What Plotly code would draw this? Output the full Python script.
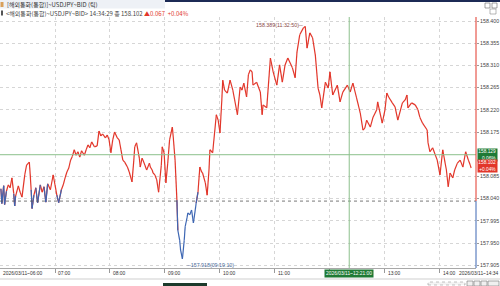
import pandas as pd
import plotly.graph_objects as go

# ---------------- data ----------------
minutes = [
    1, 2, 4, 5, 7, 9, 11, 13, 15, 16,
    17, 20, 22, 24, 27, 29, 32, 33, 34, 35,
    37, 39, 41, 44, 46, 48, 50, 52, 55, 58,
    60, 62, 64, 67, 69, 71, 73, 75, 77, 79,
    81, 83, 85, 87, 89, 92, 94, 96, 98, 100,
    103, 106, 108, 110, 112, 115, 117, 119, 121, 123,
    125, 128, 130, 132, 134, 136, 139, 141, 144, 146,
    147, 149, 152, 153, 155, 156, 158, 160, 163, 164,
    166, 167, 169, 171, 173, 176, 177, 179, 181, 183,
    185, 188, 189, 191, 193, 194, 196, 197, 199, 201,
    202, 204, 205, 207, 209, 211, 213, 214, 216, 218,
    220, 221, 224, 226, 228, 229, 232, 236, 238, 240,
    242, 243, 245, 248, 251, 254, 256, 259, 262, 264,
    266, 269, 271, 273, 275, 276, 280, 284, 286, 287,
    291, 295, 298, 302, 305, 308, 311, 314, 319, 322,
    324, 327, 331, 333, 335, 338, 341, 344, 347, 349,
    351, 355, 358, 360, 363, 368, 371, 374, 379, 382,
    385, 389, 393, 396, 398, 400, 404, 407, 411, 412,
    417, 420, 422, 424, 428, 431, 434, 439, 442, 444,
    445, 449, 453, 456, 458, 461, 466, 467, 469, 472,
    477, 480, 483, 487, 489, 491, 494, 496, 499, 502,
    505, 508, 511, 513, 514,
]
prices = [
    158.060, 158.030, 158.066, 158.028, 158.055, 158.068, 158.062, 158.082, 158.050, 158.025,
    158.045, 158.066, 158.053, 158.043, 158.088, 158.108, 158.114, 158.088, 158.058, 158.020,
    158.047, 158.062, 158.032, 158.068, 158.053, 158.064, 158.033, 158.070, 158.058, 158.088,
    158.068, 158.047, 158.032, 158.058, 158.068, 158.082, 158.094, 158.102, 158.118, 158.126,
    158.139, 158.128, 158.135, 158.124, 158.137, 158.128, 158.139, 158.149, 158.143, 158.155,
    158.145, 158.147, 158.177, 158.167, 158.171, 158.163, 158.169, 158.159, 158.133, 158.159,
    158.175, 158.163, 158.159, 158.139, 158.118, 158.114, 158.104, 158.094, 158.074, 158.118,
    158.145, 158.153, 158.122, 158.104, 158.122, 158.118, 158.108, 158.098, 158.112, 158.104,
    158.098, 158.092, 158.088, 158.078, 158.053, 158.108, 158.145, 158.133, 158.072, 158.112,
    158.159, 158.185, 158.165, 158.118, 158.037, 157.976, 157.956, 157.936, 157.918, 157.956,
    157.983, 158.001, 158.011, 158.007, 158.017, 157.991, 158.017, 158.031, 158.053, 158.104,
    158.094, 158.092, 158.072, 158.047, 158.098, 158.139, 158.133, 158.210, 158.199, 158.173,
    158.240, 158.280, 158.260, 158.254, 158.280, 158.260, 158.240, 158.210, 158.266, 158.260,
    158.274, 158.246, 158.291, 158.301, 158.297, 158.270, 158.276, 158.256, 158.210, 158.230,
    158.224, 158.325, 158.297, 158.270, 158.311, 158.276, 158.311, 158.325, 158.305, 158.285,
    158.337, 158.372, 158.386, 158.389, 158.345, 158.376, 158.366, 158.331, 158.264, 158.250,
    158.224, 158.276, 158.264, 158.297, 158.250, 158.270, 158.236, 158.256, 158.270, 158.256,
    158.274, 158.244, 158.214, 158.179, 158.183, 158.199, 158.185, 158.205, 158.220, 158.236,
    158.193, 158.220, 158.254, 158.246, 158.234, 158.226, 158.199, 158.234, 158.240, 158.250,
    158.224, 158.234, 158.230, 158.220, 158.205, 158.193, 158.179, 158.153, 158.135, 158.143,
    158.118, 158.088, 158.139, 158.098, 158.064, 158.092, 158.082, 158.098, 158.112, 158.118,
    158.104, 158.135, 158.118, 158.108, 158.102,
]
y_ticks = [158.400, 158.355, 158.310, 158.265, 158.220, 158.175,
           158.085, 158.040, 157.995, 157.950, 157.905]
hour_ticks = ["07:00", "08:00", "09:00", "10:00", "11:00", "12:00", "13:00", "14:00"]
hour_labels_shown = ["07:00", "08:00", "09:00", "10:00", "11:00", "13:00", "14:00"]
prev_close = 158.035
last_price = 158.102
cross_price = 158.129
cross_time = "12:21:00"
high_val, high_time = 158.389, "11:32:50"
low_val, low_time = 157.918, "09:19:10"

# ---------------- layout helpers ----------------
W, H = 500, 286
ML, MR, MT, MB = 0, 24, 17, 18
PW, PH = W - ML - MR, H - MT - MB
def px_x(p):
    return (p - ML) / PW
def px_y(p):
    return (H - MB - p) / PH

DAY = "2026-03-11 "
base = pd.Timestamp(DAY + "06:00:00")
times = list(base + pd.to_timedelta(minutes, unit="m"))
x_end = base + pd.Timedelta(minutes=519.3)
y_lo, y_hi = 157.8994, 158.4081

RED = "#e2362a"
BLUE = "#3d66b3"

# red where the segment reaches above previous close, blue (on top) where it dips below
rx, ry, bx, by = [], [], [], []
for i in range(len(prices) - 1):
    a, b = prices[i], prices[i + 1]
    if max(a, b) >= prev_close:
        rx += [times[i], times[i + 1], None]
        ry += [a, b, None]
    if min(a, b) < prev_close:
        bx += [times[i], times[i + 1], None]
        by += [a, b, None]

fig = go.Figure()
fig.add_trace(go.Scatter(x=rx, y=ry, mode="lines", line=dict(color=RED, width=1.2),
                         hoverinfo="skip", showlegend=False))
fig.add_trace(go.Scatter(x=bx, y=by, mode="lines", line=dict(color=BLUE, width=1.2),
                         hoverinfo="skip", showlegend=False))

NUMFONT = "Liberation Sans"
KFONT = "Noto Sans CJK KR"
shapes = []
ann = []

# previous close dotted line
shapes.append(dict(type="line", xref="paper", yref="y", x0=0, x1=1, y0=prev_close, y1=prev_close,
                   line=dict(color="#555555", width=0.8, dash="dot")))
# crosshair
cross_t = pd.Timestamp(DAY + cross_time)
shapes.append(dict(type="line", xref="paper", yref="y", x0=0, x1=1, y0=cross_price, y1=cross_price,
                   line=dict(color="#8cc08c", width=1)))
shapes.append(dict(type="line", xref="x", yref="paper", x0=cross_t, x1=cross_t, y0=0, y1=1,
                   line=dict(color="#8cc08c", width=1)))
# right axis line, red above / blue below previous close
shapes.append(dict(type="line", xref="paper", yref="y", x0=1, x1=1, y0=prev_close, y1=y_hi,
                   line=dict(color=RED, width=1)))
shapes.append(dict(type="line", xref="paper", yref="y", x0=1, x1=1, y0=y_lo, y1=prev_close,
                   line=dict(color=BLUE, width=1)))

# header decorations
shapes.append(dict(type="rect", xref="paper", yref="paper", x0=px_x(165), x1=px_x(500),
                   y0=px_y(2), y1=px_y(0), fillcolor="#1c2a55", line=dict(width=0), layer="above"))
shapes.append(dict(type="rect", xref="paper", yref="paper", x0=px_x(0), x1=px_x(165),
                   y0=px_y(8.5), y1=px_y(0), fillcolor="#eef1f6", line=dict(width=0), layer="below"))
shapes.append(dict(type="rect", xref="paper", yref="paper", x0=px_x(0.5), x1=px_x(3.5),
                   y0=px_y(7), y1=px_y(2), fillcolor="#d9a05a", line=dict(width=0)))
shapes.append(dict(type="rect", xref="paper", yref="paper", x0=px_x(1), x1=px_x(3),
                   y0=px_y(15.5), y1=px_y(10.5), fillcolor="#555555", line=dict(width=0)))
for x0 in (485, 492):
    shapes.append(dict(type="rect", xref="paper", yref="paper", x0=px_x(x0), x1=px_x(x0 + 5),
                       y0=px_y(8), y1=px_y(3), fillcolor="#ffffff",
                       line=dict(color="#666666", width=0.6)))
shapes.append(dict(type="rect", xref="paper", yref="paper", x0=px_x(490), x1=px_x(496),
                   y0=px_y(14), y1=px_y(9), fillcolor="#ffffff", line=dict(color="#888888", width=0.6)))

# bottom scroll bar
shapes.append(dict(type="line", xref="paper", yref="paper", x0=px_x(0), x1=px_x(500),
                   y0=px_y(279), y1=px_y(279), line=dict(color="#cfcfcf", width=1)))
shapes.append(dict(type="rect", xref="paper", yref="paper", x0=px_x(163), x1=px_x(207),
                   y0=px_y(286), y1=px_y(283), fillcolor="#1d3b2c", line=dict(width=0)))
shapes.append(dict(type="rect", xref="paper", yref="paper", x0=px_x(428), x1=px_x(465),
                   y0=px_y(285), y1=px_y(282), fillcolor="#f4f4f4", line=dict(color="#9a9a9a", width=0.6, dash="dot")))
for x0 in (467, 474, 481):
    shapes.append(dict(type="rect", xref="paper", yref="paper", x0=px_x(x0), x1=px_x(x0 + 6),
                       y0=px_y(286), y1=px_y(281), fillcolor="#f0f0f0", line=dict(color="#777777", width=0.6)))
shapes.append(dict(type="rect", xref="paper", yref="paper", x0=px_x(488), x1=px_x(499),
                   y0=px_y(286), y1=px_y(281), fillcolor="#f0f0f0", line=dict(color="#777777", width=0.6)))

# header texts
ann.append(dict(xref="paper", yref="paper", x=px_x(5), y=px_y(4.2), xanchor="left", yanchor="middle",
                text="[해외통화(통합)]~USDJPY~BID (틱)", showarrow=False,
                font=dict(family=KFONT, size=6, color="#333333")))
ann.append(dict(xref="paper", yref="paper", x=px_x(4), y=px_y(13), xanchor="left", yanchor="middle",
                text="&lt;해외통화(통합)~USDJPY~BID&gt; 14:34:29 종 158.102 "
                     "<span style='color:#e2362a'>▲0.067  +0.04%</span>",
                showarrow=False, font=dict(family=KFONT, size=6, color="#444444")))

# x labels
XFS = 4.9
ann.append(dict(xref="x", yref="paper", x=base, y=px_y(273), xanchor="left", yanchor="middle",
                xshift=1, text="2026/03/11~06:00", showarrow=False,
                font=dict(family=NUMFONT, size=XFS, color="#333333")))
for h in hour_labels_shown:
    ann.append(dict(xref="x", yref="paper", x=pd.Timestamp(DAY + h), y=px_y(273), xanchor="left",
                    yanchor="middle", xshift=1, text=h, showarrow=False,
                    font=dict(family=NUMFONT, size=XFS, color="#333333")))
ann.append(dict(xref="paper", yref="paper", x=px_x(500), y=px_y(273), xanchor="right", yanchor="middle",
                text="2026/03/11~14:34", showarrow=False,
                font=dict(family=NUMFONT, size=XFS, color="#333333")))
ann.append(dict(xref="x", yref="paper", x=cross_t, y=px_y(273), xanchor="center", yanchor="middle",
                text="2026/03/11~" + cross_time, showarrow=False, bgcolor="#1f7a35", borderpad=1,
                font=dict(family=NUMFONT, size=XFS, color="#ffffff")))

# right price boxes
ann.append(dict(xref="paper", yref="y", x=px_x(477), y=cross_price, xanchor="left", yanchor="middle",
                text="158.129<br>0.06%", showarrow=False, bgcolor="#1f7a35", borderpad=0.3,
                align="right", font=dict(family=NUMFONT, size=4.8, color="#ffffff")))
ann.append(dict(xref="paper", yref="paper", x=px_x(477), y=px_y(166), xanchor="left", yanchor="middle",
                text="158.102<br>+0.04%", showarrow=False, bgcolor="#e2362a", borderpad=0.3,
                align="right", font=dict(family=NUMFONT, size=4.8, color="#ffffff")))

# high / low markers
ann.append(dict(xref="x", yref="y", x=pd.Timestamp(DAY + high_time), y=high_val, xanchor="right",
                yanchor="middle", yshift=1, text=f"{high_val:.3f}({high_time})─", showarrow=False,
                font=dict(family=NUMFONT, size=5.3, color="#8a4a48")))
ann.append(dict(xref="x", yref="y", x=pd.Timestamp(DAY + low_time), y=low_val, xanchor="left",
                yanchor="top", xshift=1, yshift=-1, text=f"─{low_val:.3f}({low_time})", showarrow=False,
                font=dict(family=NUMFONT, size=5.3, color="#4a6a9a")))

fig.update_layout(
    width=W, height=H,
    margin=dict(l=ML, r=MR, t=MT, b=MB),
    paper_bgcolor="#ffffff", plot_bgcolor="#ffffff",
    showlegend=False,
    shapes=shapes, annotations=ann,
    xaxis=dict(type="date", range=[base, x_end],
               tickvals=[pd.Timestamp(DAY + h) for h in hour_ticks],
               showticklabels=False, ticks="outside", ticklen=4, tickcolor="#9a9a9a",
               showgrid=True, gridcolor="#d6d6d6", griddash="dot", gridwidth=1,
               showline=True, linecolor="#a8a8a8", linewidth=1, zeroline=False),
    yaxis=dict(range=[y_lo, y_hi], side="right",
               tickvals=y_ticks, ticktext=[f"{v:.3f}" for v in y_ticks],
               ticks="outside", ticklen=2, tickcolor="#9a9a9a",
               tickfont=dict(family=NUMFONT, size=5.3, color="#444444"),
               showgrid=True, gridcolor="#d6d6d6", griddash="dot", gridwidth=1,
               showline=False, zeroline=False),
)

fig.write_html("out.html")
